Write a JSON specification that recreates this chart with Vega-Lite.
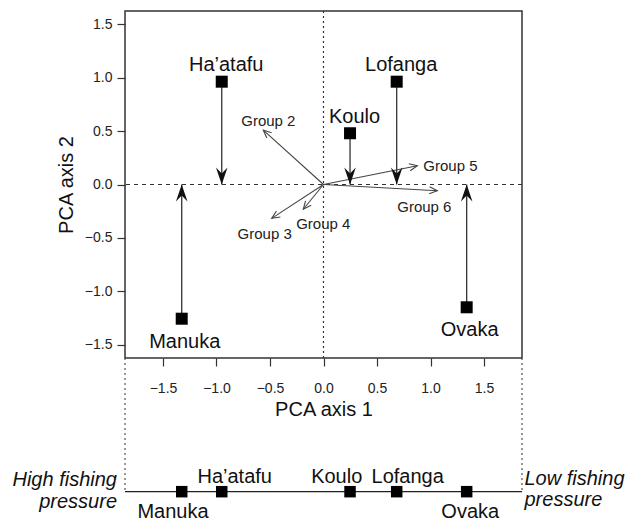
{
  "$schema": "https://vega.github.io/schema/vega-lite/v6.json",
  "width": 397,
  "height": 347,
  "autosize": {"type": "none"},
  "padding": {"left": 125, "top": 11, "right": 110, "bottom": 165},
  "background": "white",
  "config": {
    "view": {"stroke": "#333", "strokeWidth": 1.5},
    "font": "Liberation Sans",
    "axis": {
      "domain": false, "grid": false, "tickColor": "#333", "tickWidth": 1.2, "tickSize": 8,
      "labelFont": "Liberation Sans", "labelFontSize": 14, "labelColor": "#222",
      "titleFont": "Liberation Sans", "titleFontSize": 20, "titleFontWeight": "normal", "titleColor": "#111"
    },
    "text": {"font": "Liberation Sans"}
  },
  "datasets": {
    "sites": [
      {"site": "Ha\u2019atafu", "x": -0.951, "y": 0.963},
      {"site": "Manuka", "x": -1.325, "y": -1.257},
      {"site": "Koulo", "x": 0.248, "y": 0.480},
      {"site": "Lofanga", "x": 0.684, "y": 0.963},
      {"site": "Ovaka", "x": 1.338, "y": -1.150}
    ],
    "groups": [
      {"g": "Group 2", "gx": -0.5625, "gy": 0.510},
      {"g": "Group 3", "gx": -0.484, "gy": -0.317},
      {"g": "Group 4", "gx": -0.189, "gy": -0.232},
      {"g": "Group 5", "gx": 0.877, "gy": 0.176},
      {"g": "Group 6", "gx": 1.064, "gy": -0.058}
    ]
  },
  "encoding": {
    "x": {"type": "quantitative", "scale": {"domain": [-1.855, 1.855], "nice": false, "zero": false},
      "axis": {"values": [-1.5, -1, -0.5, 0, 0.5, 1, 1.5], "format": ".1f", "labelPadding": 15, "title": "PCA axis 1", "titlePadding": 4}},
    "y": {"type": "quantitative", "scale": {"domain": [-1.625, 1.625], "nice": false, "zero": false},
      "axis": {"values": [-1.5, -1, -0.5, 0, 0.5, 1, 1.5], "format": ".1f", "labelPadding": 5, "title": "PCA axis 2", "titlePadding": 8}}
  },
  "layer": [
    {"data": {"values": [{}]}, "mark": {"type": "rule", "stroke": "#333", "strokeWidth": 1.1, "strokeDash": [4, 4]},
      "encoding": {"y": {"datum": 0}}},
    {"data": {"values": [{}]}, "mark": {"type": "rule", "stroke": "#333", "strokeWidth": 1.2, "strokeDash": [2, 3]},
      "encoding": {"x": {"datum": 0}}},
    {"data": {"values": [{}]}, "mark": {"type": "rule", "stroke": "#555", "strokeWidth": 1.2, "strokeDash": [2, 3]},
      "encoding": {"x": {"datum": -1.855}, "y": {"datum": -1.625}, "y2": {"datum": -2.877}}},
    {"data": {"values": [{}]}, "mark": {"type": "rule", "stroke": "#555", "strokeWidth": 1.2, "strokeDash": [2, 3]},
      "encoding": {"x": {"datum": 1.855}, "y": {"datum": -1.625}, "y2": {"datum": -2.877}}},
    {"data": {"values": [{}]}, "mark": {"type": "rule", "stroke": "#222", "strokeWidth": 1.3},
      "encoding": {"x": {"datum": -1.855}, "x2": {"datum": 1.855}, "y": {"datum": -2.877}}},
    {"data": {"name": "groups"}, "mark": {"type": "rule", "stroke": "#444", "strokeWidth": 1.1},
      "encoding": {"x": {"field": "gx"}, "y": {"field": "gy"}, "x2": {"datum": 0}, "y2": {"datum": 0}}},
    {"data": {"name": "groups"},
      "transform": [{"calculate": "atan2(datum.gx, datum.gy) * 180 / PI", "as": "ang"}],
      "mark": {"type": "point", "shape": "M -0.45 1 L 0 0 L 0.45 1", "filled": false, "stroke": "#444", "strokeWidth": 1.1, "size": 256, "opacity": 1},
      "encoding": {"x": {"field": "gx"}, "y": {"field": "gy"}, "angle": {"field": "ang", "type": "quantitative", "scale": null}}},
    {"data": {"name": "sites"}, "mark": {"type": "rule", "stroke": "#333", "strokeWidth": 1.3},
      "encoding": {"x": {"field": "x"}, "y": {"field": "y"}, "y2": {"datum": 0}}},
    {"data": {"name": "sites"}, "transform": [{"filter": "datum.y > 0"}],
      "mark": {"type": "point", "shape": "M 0 0 L -0.34 -1 L 0 -0.65 L 0.34 -1 Z", "filled": true, "fill": "#111", "strokeWidth": 0, "size": 1156, "opacity": 1},
      "encoding": {"x": {"field": "x"}, "y": {"datum": 0}}},
    {"data": {"name": "sites"}, "transform": [{"filter": "datum.y < 0"}],
      "mark": {"type": "point", "shape": "M 0 0 L -0.34 1 L 0 0.65 L 0.34 1 Z", "filled": true, "fill": "#111", "strokeWidth": 0, "size": 1156, "opacity": 1},
      "encoding": {"x": {"field": "x"}, "y": {"datum": 0}}},
    {"data": {"name": "sites"}, "mark": {"type": "point", "shape": "square", "filled": true, "fill": "#000", "strokeWidth": 0, "size": 144, "opacity": 1},
      "encoding": {"x": {"field": "x"}, "y": {"field": "y"}}},
    {"data": {"name": "sites"}, "mark": {"type": "point", "shape": "square", "filled": true, "fill": "#000", "strokeWidth": 0, "size": 132, "opacity": 1},
      "encoding": {"x": {"field": "x"}, "y": {"datum": -2.877}}},
    {"data": {"name": "sites"}, "transform": [{"filter": "datum.y > 0"}],
      "mark": {"type": "text", "fontSize": 20, "color": "#111", "align": "center", "baseline": "alphabetic", "dx": 4.5, "dy": -10.5},
      "encoding": {"x": {"field": "x"}, "y": {"field": "y"}, "text": {"field": "site"}}},
    {"data": {"name": "sites"}, "transform": [{"filter": "datum.y < 0"}],
      "mark": {"type": "text", "fontSize": 20, "color": "#111", "align": "center", "baseline": "alphabetic", "dx": 3, "dy": 29},
      "encoding": {"x": {"field": "x"}, "y": {"field": "y"}, "text": {"field": "site"}}},
    {"data": {"name": "groups"}, "transform": [{"filter": "datum.g == 'Group 2'"}],
      "mark": {"type": "text", "fontSize": 15, "color": "#222", "align": "center", "baseline": "alphabetic", "dx": 5, "dy": -4},
      "encoding": {"x": {"field": "gx"}, "y": {"field": "gy"}, "text": {"field": "g"}}},
    {"data": {"name": "groups"}, "transform": [{"filter": "datum.g == 'Group 3'"}],
      "mark": {"type": "text", "fontSize": 15, "color": "#222", "align": "center", "baseline": "alphabetic", "dx": -7, "dy": 21},
      "encoding": {"x": {"field": "gx"}, "y": {"field": "gy"}, "text": {"field": "g"}}},
    {"data": {"name": "groups"}, "transform": [{"filter": "datum.g == 'Group 4'"}],
      "mark": {"type": "text", "fontSize": 15, "color": "#222", "align": "center", "baseline": "alphabetic", "dx": 20, "dy": 20},
      "encoding": {"x": {"field": "gx"}, "y": {"field": "gy"}, "text": {"field": "g"}}},
    {"data": {"name": "groups"}, "transform": [{"filter": "datum.g == 'Group 5'"}],
      "mark": {"type": "text", "fontSize": 15, "color": "#222", "align": "left", "baseline": "alphabetic", "dx": 6, "dy": 5.6},
      "encoding": {"x": {"field": "gx"}, "y": {"field": "gy"}, "text": {"field": "g"}}},
    {"data": {"name": "groups"}, "transform": [{"filter": "datum.g == 'Group 6'"}],
      "mark": {"type": "text", "fontSize": 15, "color": "#222", "align": "center", "baseline": "alphabetic", "dx": -13, "dy": 21},
      "encoding": {"x": {"field": "gx"}, "y": {"field": "gy"}, "text": {"field": "g"}}},
    {"data": {"name": "sites"}, "transform": [{"filter": "datum.site == 'Ha\u2019atafu'"}],
      "mark": {"type": "text", "fontSize": 20, "color": "#111", "align": "center", "baseline": "alphabetic", "dx": 13, "dy": -9},
      "encoding": {"x": {"field": "x"}, "y": {"datum": -2.877}, "text": {"field": "site"}}},
    {"data": {"name": "sites"}, "transform": [{"filter": "datum.site == 'Koulo'"}],
      "mark": {"type": "text", "fontSize": 20, "color": "#111", "align": "center", "baseline": "alphabetic", "dx": -13.3, "dy": -9},
      "encoding": {"x": {"field": "x"}, "y": {"datum": -2.877}, "text": {"field": "site"}}},
    {"data": {"name": "sites"}, "transform": [{"filter": "datum.site == 'Lofanga'"}],
      "mark": {"type": "text", "fontSize": 20, "color": "#111", "align": "center", "baseline": "alphabetic", "dx": 11, "dy": -9},
      "encoding": {"x": {"field": "x"}, "y": {"datum": -2.877}, "text": {"field": "site"}}},
    {"data": {"name": "sites"}, "transform": [{"filter": "datum.site == 'Manuka'"}],
      "mark": {"type": "text", "fontSize": 20, "color": "#111", "align": "center", "baseline": "alphabetic", "dx": -8.7, "dy": 26.5},
      "encoding": {"x": {"field": "x"}, "y": {"datum": -2.877}, "text": {"field": "site"}}},
    {"data": {"name": "sites"}, "transform": [{"filter": "datum.site == 'Ovaka'"}],
      "mark": {"type": "text", "fontSize": 20, "color": "#111", "align": "center", "baseline": "alphabetic", "dx": 3.6, "dy": 26.5},
      "encoding": {"x": {"field": "x"}, "y": {"datum": -2.877}, "text": {"field": "site"}}},
    {"data": {"values": [{}]},
      "mark": {"type": "text", "fontSize": 20, "fontStyle": "italic", "color": "#111", "align": "right", "baseline": "alphabetic", "dx": -8, "dy": -5.5, "lineBreak": "\n", "lineHeight": 21.5},
      "encoding": {"x": {"datum": -1.855}, "y": {"datum": -2.877}, "text": {"value": "High fishing\npressure"}}},
    {"data": {"values": [{}]},
      "mark": {"type": "text", "fontSize": 20, "fontStyle": "italic", "color": "#111", "align": "left", "baseline": "alphabetic", "dx": 2.5, "dy": -7, "lineBreak": "\n", "lineHeight": 21.5},
      "encoding": {"x": {"datum": 1.855}, "y": {"datum": -2.877}, "text": {"value": "Low fishing\npressure"}}}
  ]
}
